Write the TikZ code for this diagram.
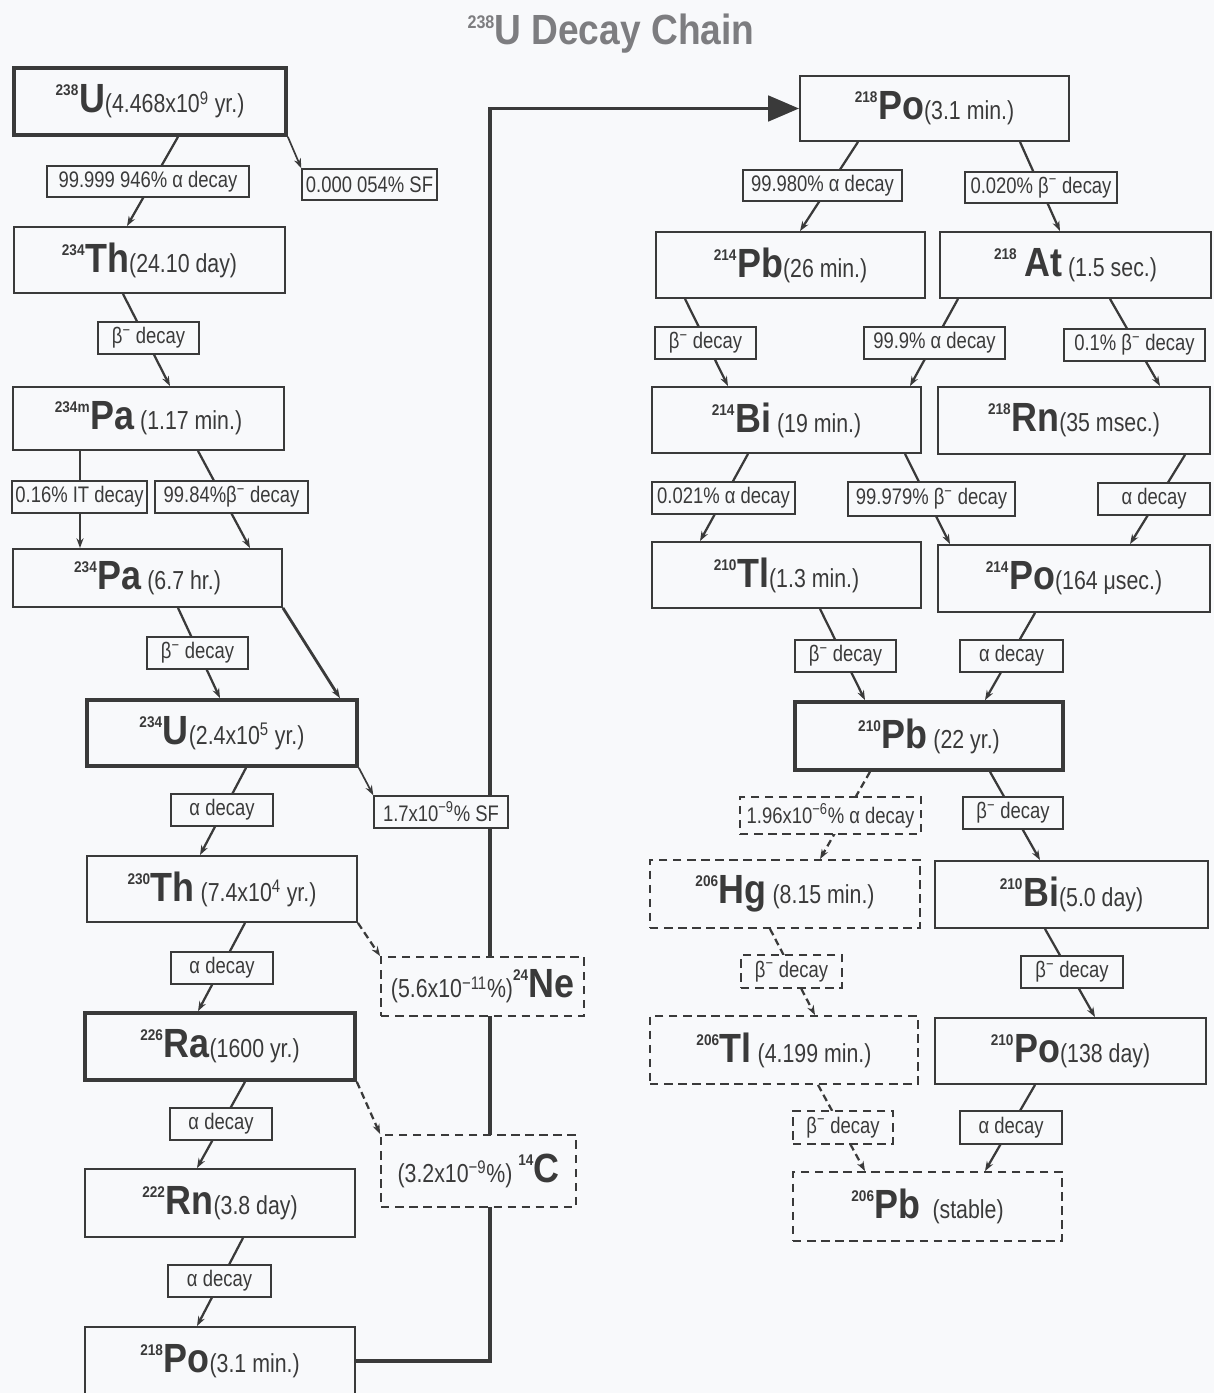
\documentclass[tikz,border=0pt]{standalone}
\usepackage{fontspec}
\setmainfont{Liberation Sans}[FakeStretch=0.88]
\newfontfamily\narrowfam{Liberation Sans}[FakeStretch=0.82]
\usetikzlibrary{arrows.meta}
\definecolor{ink}{RGB}{58,58,58}
\definecolor{paper}{RGB}{248,249,251}
\definecolor{titlegray}{RGB}{125,125,128}
\pgfdeclarelayer{bgfill}
\pgfdeclarelayer{lines}
\pgfsetlayers{bgfill,lines,main}
\newcommand\myel{\fontsize{29}{29}\selectfont\bfseries}
\newcommand\myhl{\narrowfam\fontsize{18.5}{18.5}\selectfont\mdseries}
\newcommand\mysm{\fontsize{11}{11}\selectfont\bfseries}
\newcommand\mylab{\narrowfam\fontsize{16}{16}\selectfont}
\newcommand\nuc[3]{\raisebox{12pt}{\mysm #1}\kern0.5pt{\myel #2}{\myhl #3}}
\newcommand\bm{\textsuperscript{−}}
\tikzset{
  box/.style 2 args={draw=ink, line width=1.3pt, fill=paper, text=ink,
    minimum width=#1*0.025cm, minimum height=#2*0.025cm, inner sep=0pt},
  thickbox/.style={line width=2.6pt},
  dbox/.style={dash pattern=on 6pt off 4pt},
  lab/.style 2 args={draw=ink, line width=1pt, fill=paper, text=ink, font=\mylab,
    minimum width=#1*0.025cm, minimum height=#2*0.025cm, inner sep=0pt},
  conn/.style={draw=ink, line width=1.6pt, -{Stealth[length=7pt,width=5pt]}},
  dconn/.style={conn, dash pattern=on 5pt off 3pt},
  bigconn/.style={draw=ink, line width=2.8pt, -{Triangle[length=22pt,width=18pt]}}
}
\begin{document}
\begin{tikzpicture}[x=0.025cm,y=-0.025cm]
\useasboundingbox (0,0) rectangle (1214,1393);
\begin{pgfonlayer}{bgfill}
\fill[paper] (0,0) rectangle (1214,1393);
\end{pgfonlayer}

% title
\node[text=titlegray, font=\fontsize{30}{30}\selectfont\bfseries] (title) at (611,34)
  {\raisebox{12pt}{\fontsize{13}{13}\selectfont 238}U Decay Chain};

% ---------- left column ----------
\node[box={272}{67}, thickbox] (U238) at (150,101.5) {\nuc{238}{U}{(4.468x10\textsuperscript{9} yr.)}};
\node[box={271}{66}] (Th234) at (149.5,260) {\nuc{234}{Th}{(24.10 day)}};
\node[box={271}{63}] (Pa234m) at (148.5,418.5) {\nuc{234m}{Pa}{ (1.17 min.)}};
\node[box={269}{58}] (Pa234) at (147.5,578) {\nuc{234}{Pa}{ (6.7 hr.)}};
\node[box={270}{66}, thickbox] (U234) at (222,733) {\nuc{234}{U}{(2.4x10\textsuperscript{5} yr.)}};
\node[box={270}{66}] (Th230) at (222,889) {\nuc{230}{Th}{ (7.4x10\textsuperscript{4} yr.)}};
\node[box={270}{67}, thickbox] (Ra226) at (220,1046.5) {\nuc{226}{Ra}{(1600 yr.)}};
\node[box={270}{68}] (Rn222) at (220,1203) {\nuc{222}{Rn}{(3.8 day)}};
\node[box={270}{68}] (Po218L) at (220,1361) {\nuc{218}{Po}{(3.1 min.)}};
\node[box={203}{59}, dbox] (Ne24) at (482.5,986.5)
  {{\myhl (5.6x10\textsuperscript{−11}\%)}\raisebox{12pt}{\mysm 24}{\myel Ne}};
\node[box={195}{72}, dbox] (C14) at (478.5,1171)
  {{\myhl (3.2x10\textsuperscript{−9}\%) }\raisebox{12pt}{\mysm 14}{\myel C}};

\node[lab={202}{31}] (l1) at (148,181.5) {99.999 946\% α decay};
\node[lab={135}{31}] (l2) at (369.5,184.5) {0.000 054\% SF};
\node[lab={101}{32}] (l3) at (148.5,338) {β\bm\ decay};
\node[lab={135}{32}] (l4) at (79.5,497) {0.16\% IT decay};
\node[lab={153}{32}] (l5) at (231.5,497) {99.84\%β\bm\ decay};
\node[lab={101}{32}] (l6) at (197.5,653) {β\bm\ decay};
\node[lab={102}{32}] (l7) at (222,810) {α decay};
\node[lab={134}{32}] (l8) at (441,812) {1.7x10\textsuperscript{−9}\% SF};
\node[lab={102}{32}] (l9) at (222,968) {α decay};
\node[lab={102}{32}] (l10) at (221,1124) {α decay};
\node[lab={103}{32}] (l11) at (219.5,1281) {α decay};

% ---------- right side ----------
\node[box={269}{65}] (Po218R) at (934.5,108.5) {\nuc{218}{Po}{(3.1 min.)}};
\node[box={269}{66}] (Pb214) at (790.5,265) {\nuc{214}{Pb}{(26 min.)}};
\node[box={271}{66}] (At218) at (1075.5,265) {\nuc{218}{\,At}{ (1.5 sec.)}};
\node[box={269}{66}] (Bi214) at (786.5,420) {\nuc{214}{Bi}{ (19 min.)}};
\node[box={272}{67}] (Rn218) at (1074,420.5) {\nuc{218}{Rn}{(35 msec.)}};
\node[box={269}{66}] (Tl210) at (786.5,575) {\nuc{210}{Tl}{(1.3 min.)}};
\node[box={272}{67}] (Po214) at (1074,578.5) {\nuc{214}{Po}{(164 μsec.)}};
\node[box={268}{68}, thickbox] (Pb210) at (929,736) {\nuc{210}{Pb}{ (22 yr.)}};
\node[box={270}{68}, dbox] (Hg206) at (785,894) {\nuc{206}{Hg}{ (8.15 min.)}};
\node[box={273}{67}] (Bi210) at (1071.5,894.5) {\nuc{210}{Bi}{(5.0 day)}};
\node[box={268}{68}, dbox] (Tl206) at (784,1050) {\nuc{206}{Tl}{ (4.199 min.)}};
\node[box={271}{66}] (Po210) at (1070.5,1051) {\nuc{210}{Po}{(138 day)}};
\node[box={269}{69}, dbox] (Pb206) at (927.5,1206.5) {\nuc{206}{Pb}{ \ (stable)}};

\node[lab={159}{31}] (r1) at (822.5,185.5) {99.980\% α decay};
\node[lab={152}{31}] (r2) at (1041,187.5) {0.020\% β\bm\ decay};
\node[lab={101}{32}] (r3) at (705.5,343) {β\bm\ decay};
\node[lab={141}{32}] (r4) at (934.5,343) {99.9\% α decay};
\node[lab={141}{32}] (r5) at (1134.5,345) {0.1\% β\bm\ decay};
\node[lab={143}{32}] (r6) at (723.5,498) {0.021\% α decay};
\node[lab={167}{34}] (r7) at (931.5,499) {99.979\% β\bm\ decay};
\node[lab={112}{32}] (r8) at (1154,499) {α decay};
\node[lab={101}{32}] (r9) at (845.5,656) {β\bm\ decay};
\node[lab={103}{32}] (r10) at (1011.5,656) {α decay};
\node[lab={181}{37}, dbox] (r11) at (830.5,815.5) {1.96x10\textsuperscript{−6}\% α decay};
\node[lab={100}{32}] (r12) at (1013,813) {β\bm\ decay};
\node[lab={101}{33}, dbox] (r13) at (791.5,971.5) {β\bm\ decay};
\node[lab={102}{32}] (r14) at (1072,972) {β\bm\ decay};
\node[lab={100}{33}, dbox] (r15) at (843,1127.5) {β\bm\ decay};
\node[lab={102}{33}] (r16) at (1011,1127.5) {α decay};

\coordinate (jog) at (490,0);

% ---------- connectors ----------
\begin{pgfonlayer}{lines}
\draw[conn] (U238.south -| 178,0) -- (Th234.north -| 127,0);
\draw[conn, line width=1.2pt] (U238.south east) -- (l2.north west);
\draw[conn] (Th234.south -| 123,0) -- (Pa234m.north -| 170,0);
\draw[conn] (Pa234m.south -| 80,0) -- (Pa234.north -| 80,0);
\draw[conn] (Pa234m.south -| 198,0) -- (Pa234.north -| 250,0);
\draw[conn, line width=2pt] (Pa234.south east) -- (U234.north -| 340,0);
\draw[conn] (Pa234.south -| 178,0) -- (U234.north -| 220,0);
\draw[conn] (U234.south -| 246,0) -- (Th230.north -| 200,0);
\draw[conn, line width=1.2pt] (U234.south east) -- (l8.north west);
\draw[conn] (Th230.south -| 245,0) -- (Ra226.north -| 198,0);
\draw[dconn] (Th230.south east) -- (Ne24.north west);
\draw[conn] (Ra226.south -| 245,0) -- (Rn222.north -| 197,0);
\draw[dconn] (Ra226.south east) -- (C14.north west);
\draw[conn] (Rn222.south -| 243,0) -- (Po218L.north -| 197,0);
\draw[bigconn] (Po218L.east) -| (jog |- Po218R.west) -- (Po218R.west);

\draw[conn] (Po218R.south -| 858,0) -- (Pb214.north -| 800,0);
\draw[conn] (Po218R.south -| 1020,0) -- (At218.north -| 1060,0);
\draw[conn] (Pb214.south -| 685,0) -- (Bi214.north -| 728,0);
\draw[conn] (At218.south -| 958,0) -- (Bi214.north -| 910,0);
\draw[conn] (At218.south -| 1110,0) -- (Rn218.north -| 1160,0);
\draw[conn] (Bi214.south -| 748,0) -- (Tl210.north -| 700,0);
\draw[conn] (Bi214.south -| 905,0) -- (Po214.north -| 950,0);
\draw[conn] (Rn218.south -| 1185,0) -- (Po214.north -| 1130,0);
\draw[conn] (Tl210.south -| 820,0) -- (Pb210.north -| 865,0);
\draw[conn] (Po214.south -| 1035,0) -- (Pb210.north -| 985,0);
\draw[dconn] (Pb210.south -| 870,0) -- (Hg206.north -| 820,0);
\draw[conn] (Pb210.south -| 990,0) -- (Bi210.north -| 1040,0);
\draw[dconn] (Hg206.south -| 770,0) -- (Tl206.north -| 815,0);
\draw[conn] (Bi210.south -| 1045,0) -- (Po210.north -| 1095,0);
\draw[dconn] (Tl206.south -| 818,0) -- (Pb206.north -| 865,0);
\draw[conn] (Po210.south -| 1035,0) -- (Pb206.north -| 985,0);
\end{pgfonlayer}
\end{tikzpicture}
\end{document}
